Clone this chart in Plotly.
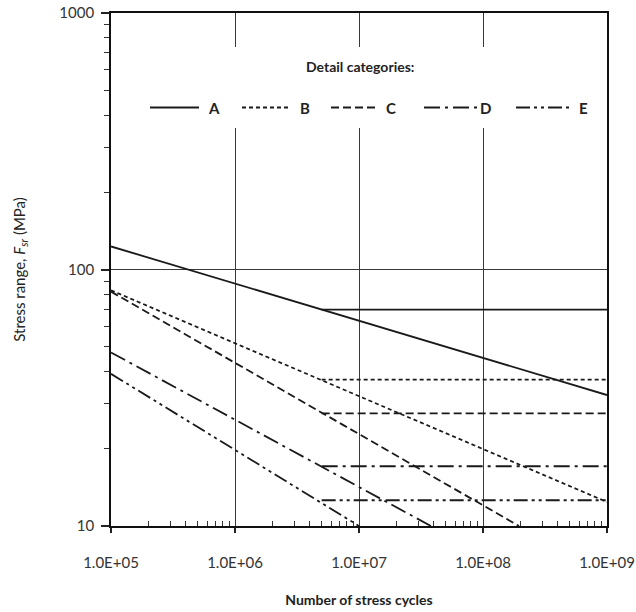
import plotly.graph_objects as go

# S-N curves for the detail categories (stress range in MPa vs. number of cycles)
categories = ["A", "B", "C", "D", "E"]

cycles_A = [1e5, 1e9]
stress_A = [123.0, 32.4]
cycles_B = [1e5, 1e9]
stress_B = [83.0, 12.4]
cycles_C = [1e5, 1.95e8]
stress_C = [82.0, 10.0]
cycles_D = [1e5, 3.8e7]
stress_D = [47.5, 10.0]
cycles_E = [1e5, 1.0e7]
stress_E = [39.2, 10.0]

# constant-amplitude fatigue thresholds (horizontal branches)
threshold_cycles = [5.0e6, 1e9]
threshold_stress = [69.7, 37.2, 27.5, 17.1, 12.6]

x_tickvals = [1e5, 1e6, 1e7, 1e8, 1e9]
x_ticktext = ["1.0E+05", "1.0E+06", "1.0E+07", "1.0E+08", "1.0E+09"]
y_tickvals = [10, 100, 1000]
y_ticktext = ["10", "100", "1000"]

curves = {
    "A": (cycles_A, stress_A),
    "B": (cycles_B, stress_B),
    "C": (cycles_C, stress_C),
    "D": (cycles_D, stress_D),
    "E": (cycles_E, stress_E),
}
dashes = {
    "A": "solid",
    "B": "4px,3px",
    "C": "8px,4px",
    "D": "16px,5px,3px,5px",
    "E": "14px,4px,3px,4px,3px,4px",
}
INK = "#1a1a1a"
LW = 1.8

fig = go.Figure()
for i, cat in enumerate(categories):
    n, s = curves[cat]
    fig.add_trace(go.Scatter(
        x=n, y=s, mode="lines", name=cat, showlegend=False,
        line=dict(color=INK, width=LW, dash=dashes[cat]),
    ))
    fig.add_trace(go.Scatter(
        x=threshold_cycles, y=[threshold_stress[i]] * 2, mode="lines",
        showlegend=False, line=dict(color=INK, width=LW, dash=dashes[cat]),
    ))

# plot area in pixels, used to place the hand-drawn key
L, R, T, B = 111, 29, 13, 86
W, H = 636, 612
pw, ph = W - L - R, H - T - B


def px(x):
    return (x - L) / pw


def py(y):
    return (H - B - y) / ph


shapes = [dict(type="rect", xref="paper", yref="paper", layer="above",
               x0=px(140), x1=px(598), y0=py(128), y1=py(47),
               fillcolor="white", line=dict(width=0))]
annotations = [dict(text="<b>Detail categories:</b>", xref="paper", yref="paper",
                    x=px(360), y=py(66), showarrow=False,
                    xanchor="center", yanchor="middle",
                    font=dict(family="Lato", size=14, color="#222"))]
key_lines = [(150, 199, 214), (242, 290, 305), (331, 376, 391), (424, 477, 485), (516, 569, 583)]
for cat, (x0, x1, xl) in zip(categories, key_lines):
    shapes.append(dict(type="line", xref="paper", yref="paper", layer="above",
                       x0=px(x0), x1=px(x1), y0=py(107.5), y1=py(107.5),
                       line=dict(color=INK, width=LW, dash=dashes[cat])))
    annotations.append(dict(text="<b>" + cat + "</b>", xref="paper", yref="paper",
                            x=px(xl), y=py(107.5), showarrow=False,
                            xanchor="center", yanchor="middle",
                            font=dict(family="Lato", size=15, color="#222")))

minor_x = [d * 10 ** e for e in range(5, 9) for d in range(2, 10)]
minor_y = [d * 10 ** e for e in range(1, 3) for d in range(2, 10)]

tick_font = dict(family="Lato", size=15, color="#333")

fig.update_xaxes(
    type="log", range=[5, 9], automargin=False,
    tickvals=x_tickvals, ticktext=x_ticktext, tickfont=tick_font,
    ticks="outside", ticklen=5, tickcolor="#222", tickwidth=1.5,
    ticklabelstandoff=17,
    minor=dict(tickvals=minor_x, ticks="inside", ticklen=5, tickcolor="#333",
               tickwidth=1.2, showgrid=False),
    showgrid=True, gridcolor="#3a3a3a", gridwidth=1.4,
    showline=True, linecolor="#111", linewidth=1.8, mirror=True,
    zeroline=False,
    title=dict(text="<b>Number of stress cycles</b>", standoff=25,
               font=dict(family="Lato", size=14, color="#222")),
)
fig.update_yaxes(
    type="log", range=[1, 3], automargin=False,
    tickvals=y_tickvals, ticktext=y_ticktext, tickfont=tick_font,
    ticks="outside", ticklen=8, tickcolor="#222", tickwidth=1.5,
    ticklabelstandoff=4,
    minor=dict(tickvals=minor_y, ticks="outside", ticklen=5, tickcolor="#333",
               tickwidth=1.2, showgrid=False),
    showgrid=True, gridcolor="#3a3a3a", gridwidth=1.4,
    showline=True, linecolor="#111", linewidth=1.8, mirror=True,
    zeroline=False,
    title=dict(text="Stress range, <i>F</i><sub><i>sr</i></sub> (MPa)", standoff=30,
               font=dict(family="Lato", size=15, color="#222")),
)

fig.update_layout(
    width=W, height=H,
    margin=dict(l=L, r=R, t=T, b=B, autoexpand=False),
    paper_bgcolor="white", plot_bgcolor="white",
    shapes=shapes, annotations=annotations,
    showlegend=False,
)

fig.write_html("out.html")
